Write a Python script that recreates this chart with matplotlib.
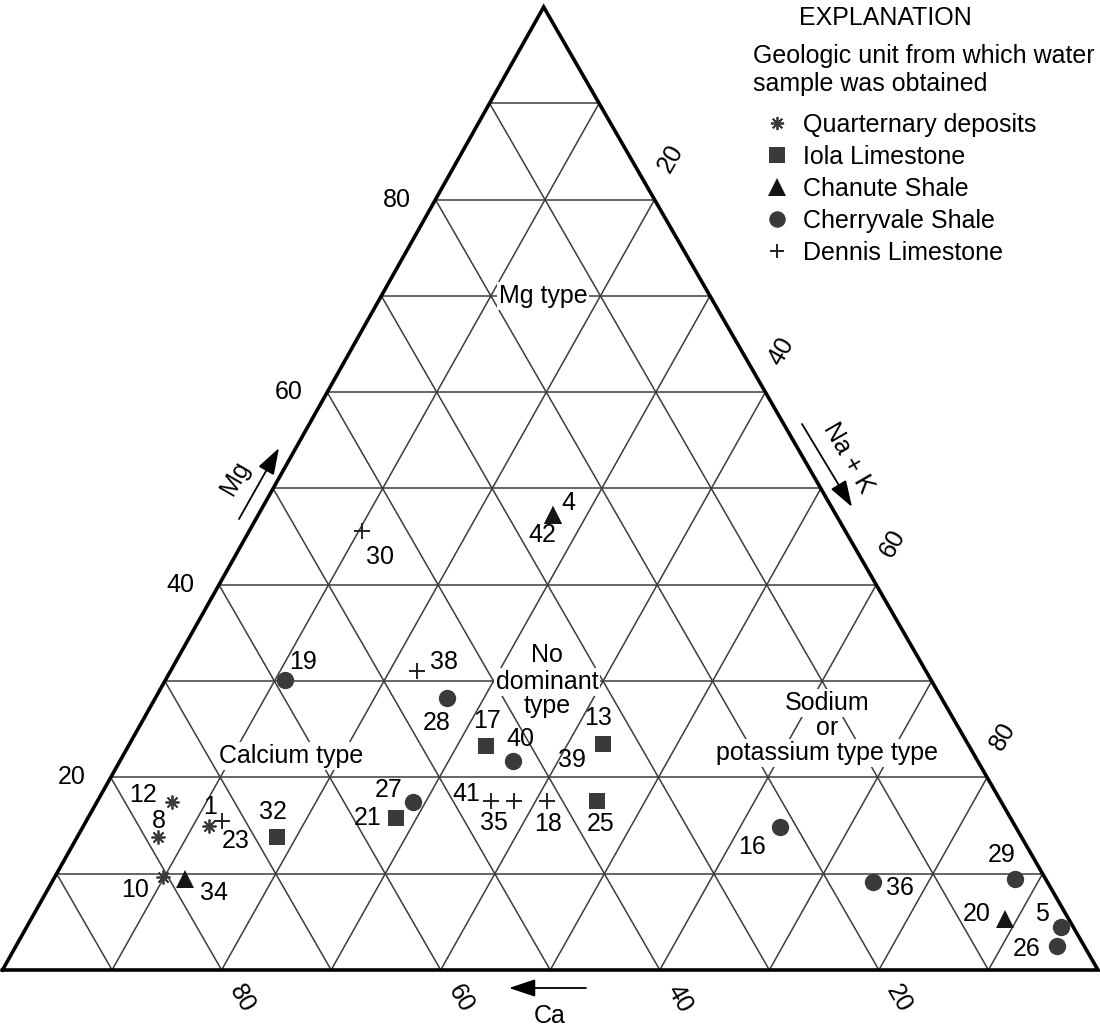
"""Trilinear cation diagram: water samples by geologic unit (Ca / Mg / Na+K)"""
import numpy as np
import matplotlib as mpl, matplotlib.pyplot as plt
from matplotlib.lines import Line2D

mpl.rcParams.update({"font.family": ["Liberation Sans", "DejaVu Sans"], "font.size": 18})

# ---- data (percent of total cations) ----
sample_ids = ["1", "4", "5", "8", "10", "12", "13", "16", "17", "18", "19", "20", "21", "23",
              "25", "26", "27", "28", "29", "30", "32", "34", "35", "36", "38", "39", "40",
              "41", "42"]
units = ["Q", "Chanute", "Cherryvale", "Q", "Q", "Q", "Iola", "Cherryvale", "Iola", "Dennis",
         "Cherryvale", "Chanute", "Iola", "Dennis", "Iola", "Cherryvale", "Cherryvale",
         "Cherryvale", "Cherryvale", "Dennis", "Iola", "Chanute", "Dennis", "Cherryvale",
         "Dennis", None, "Cherryvale", "Dennis", "Chanute"]
ca_pct = [73.6, 25.9, 1.1, 78.8, 80.4, 75.7, 33.3, 21.5, 44.1, 41.4, 59.0, 5.8, 56.1, 72.1,
          36.9, 2.5, 53.7, 45.2, 2.8, 44.1, 68.0, 78.6, 44.4, 15.9, 46.4, 37.0, 42.4, 46.5, 25.9]
mg_pct = [15.0, 47.2, 4.5, 13.8, 9.7, 17.4, 23.5, 14.9, 23.3, 17.5, 30.1, 5.3, 15.8, 15.5,
          17.5, 2.5, 17.4, 28.2, 9.4, 45.6, 13.8, 9.4, 17.6, 9.1, 31.1, 21.8, 21.7, 17.6, 47.2]
nak_pct = [11.4, 26.9, 94.4, 7.4, 9.9, 6.9, 43.2, 63.6, 32.6, 41.1, 10.9, 88.9, 28.1, 12.4,
           45.6, 95.0, 28.9, 26.6, 87.8, 10.3, 18.2, 12.0, 38.0, 75.0, 22.5, 41.2, 35.9, 35.9, 26.9]

unit_order = ["Q", "Iola", "Chanute", "Cherryvale", "Dennis"]
unit_names = {"Q": "Quarternary deposits", "Iola": "Iola Limestone", "Chanute": "Chanute Shale",
              "Cherryvale": "Cherryvale Shale", "Dennis": "Dennis Limestone"}

# ---- styles / layout ----
DARK = "#3a3a3a"
unit_style = {
    "Q":          dict(marker=(8, 2, 0), ms=10, mew=1.3, color=DARK),
    "Iola":       dict(marker="s", ms=12, mew=0, color=DARK),
    "Chanute":    dict(marker="^", ms=13, mew=0, color="#151515"),
    "Cherryvale": dict(marker="o", ms=12.5, mew=0, color=DARK),
    "Dennis":     dict(marker="+", ms=11, mew=1.4, color="#222222"),
}
# label offsets in pixels (right, down) from the marker
label_off = {"1": (1, -19), "4": (16, -12), "5": (-19, -13), "8": (1, -16), "10": (-28, 13),
             "12": (-29, -7), "13": (-5, -26), "16": (-28, 20), "17": (1, -25), "18": (1, 23),
             "19": (18, -18), "20": (-28, -5), "21": (-28, 0), "23": (13, 20), "25": (4, 23),
             "26": (-30, 3), "27": (-25, -12), "28": (-10, 25), "29": (-14, -24), "30": (18, 26),
             "32": (-4, -25), "34": (29, 14), "35": (-20, 22), "36": (27, 6), "38": (27, -9),
             "39": (0, 0), "40": (7, -22), "41": (-25, -7), "42": (-10, 20)}

SHEAR = 0.494


def tern(ca, mg, nak):
    ca, mg, nak = np.asarray(ca, float), np.asarray(mg, float), np.asarray(nak, float)
    tot = ca + mg + nak
    return 100 * (nak + SHEAR * mg) / tot, 100 * mg / tot


def img(x, y):
    # image-pixel position -> data coords (for decorations only)
    return (x - 2.5) / 10.955, (970 - y) / 9.63


W, H = 1100, 1036
fig = plt.figure(figsize=(W / 100, H / 100), dpi=100)
ax = fig.add_axes([0, 0, 1, 1])
ax.set_xlim(img(0, 0)[0], img(W, 0)[0])
ax.set_ylim(img(0, H)[1], img(0, 0)[1])
ax.axis("off")

# grid
for v in range(10, 100, 10):
    for a, b in [((100 - v, v, 0), (0, v, 100 - v)),
                 ((100 - v, 0, v), (0, 100 - v, v)),
                 ((v, 0, 100 - v), (v, 100 - v, 0))]:
        x, y = tern(*zip(a, b))
        ax.plot(x, y, color="#3c3c3c", lw=1.1, zorder=1, solid_capstyle="butt")
x, y = tern([100, 0, 0, 100], [0, 100, 0, 0], [0, 0, 100, 0])
ax.plot(x, y, color="black", lw=2.6, zorder=2, solid_joinstyle="miter")

# tick labels
for v in (20, 40, 60, 80):
    ax.annotate(str(v), tern(100 - v, v, 0), xytext=(-39, 0), textcoords="offset pixels",
                ha="center", va="center")
    ax.annotate(str(v), tern(0, 100 - v, v), xytext=(16, 41), textcoords="offset pixels",
                ha="center", va="center", rotation=60)
    ax.annotate(str(v), tern(v, 0, 100 - v), xytext=(20, -29), textcoords="offset pixels",
                ha="center", va="center", rotation=-60)

# axis names with arrows
arrow = dict(arrowstyle="-|>,head_length=0.9,head_width=0.3", color="black", lw=1.3,
             shrinkA=0, shrinkB=0)
ax.annotate("", img(279, 448), img(239, 519), arrowprops=arrow)
ax.text(*img(235, 478), "Mg", rotation=60, ha="center", va="center")
ax.annotate("", img(852, 507), img(802, 424), arrowprops=arrow)
ax.text(*img(848, 458), "Na + K", rotation=-60, ha="center", va="center")
ax.annotate("", img(509, 988), img(586, 988), arrowprops=arrow)
ax.text(*img(550, 1016), "Ca", ha="center", va="center")

# region names (one white box per line so the grid is cut only behind the words)
box = dict(boxstyle="square,pad=0.08", fc="white", ec="none")
region_lines = [((543, 296), "Mg type"), ((291, 756), "Calcium type"),
                ((547, 655), "No"), ((547, 682), "dominant"), ((547, 706), "type"),
                ((827, 703), "Sodium"), ((827, 728), "or"), ((827, 753), "potassium type type")]
for (px_, py_), s in region_lines:
    ax.text(*img(px_, py_), s, ha="center", va="center", bbox=box, zorder=3)

# samples
xs, ys = tern(ca_pct, mg_pct, nak_pct)
for sid, u, x, y in zip(sample_ids, units, xs, ys):
    if u is not None:
        st = unit_style[u]
        ax.plot(x, y, ls="none", marker=st["marker"], ms=st["ms"], mew=st["mew"],
                color=st["color"], mec=st["color"], zorder=5)
    dx, dy = label_off[sid]
    ax.annotate(sid, (x, y), xytext=(dx, -dy), textcoords="offset pixels",
                ha="center", va="center", zorder=6)

# explanation
ax.text(*img(885, 18), "EXPLANATION", ha="center", va="center")
ax.text(*img(753, 70), "Geologic unit from which water\nsample was obtained",
        ha="left", va="center", linespacing=1.25)
handles = []
for u in unit_order:
    st = unit_style[u]
    handles.append(Line2D([], [], ls="none", marker=st["marker"], ms=st["ms"] * 0.95,
                          mew=st["mew"], color=st["color"], mec=st["color"]))
fig.legend(handles, [unit_names[u] for u in unit_order],
           loc="upper left", bbox_to_anchor=(763 / W, 1 - 113 / H), frameon=False,
           borderaxespad=0, borderpad=0, handlelength=1.1, handletextpad=0.5,
           labelspacing=0.32)

fig.savefig("out.png", dpi=100)
